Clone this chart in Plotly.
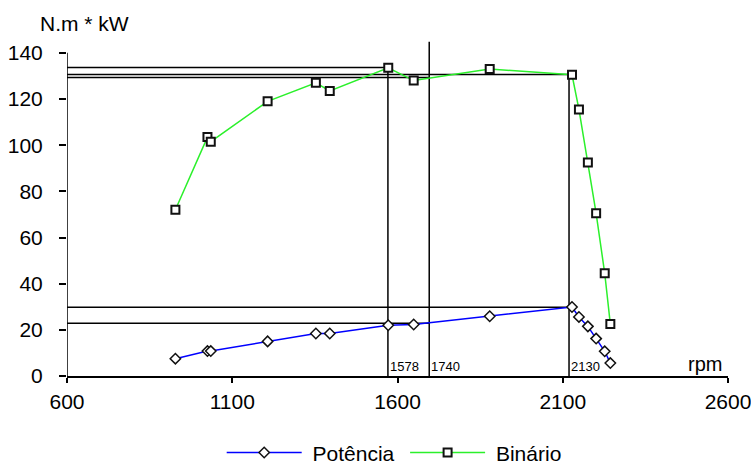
import plotly.graph_objects as go

# ---- data ----
rpm = [928, 1025, 1035, 1207, 1353, 1395, 1572, 1649, 1879, 2128, 2149, 2176, 2201, 2227, 2244]
binario = [72, 103.5, 101.5, 119, 127, 123.5, 133.5, 128, 133, 130.5, 115.5, 92.5, 70.5, 44.5, 22.5]
potencia = [7.5, 10.8, 10.8, 15, 18.4, 18.4, 22, 22.3, 25.9, 29.9, 25.6, 21.5, 16.2, 10.7, 5.6]

# reference (construction) lines drawn on the chart
vline_rpm = [1571, 1696, 2119]
vline_top = [133.7, 144.8, 130.6]
vline_labels = ["1578", "1740", "2130"]
hline_level = [133.7, 130.6, 129.3, 29.8, 22.9]
hline_end = [1571, 2119, 1696, 2119, 1696]

x_ticks = [600, 1100, 1600, 2100, 2600]
y_ticks = [0, 20, 40, 60, 80, 100, 120, 140]

FONT = "Liberation Sans, Arial, sans-serif"
NB = "\u00a0"

fig = go.Figure()

fig.add_trace(go.Scatter(
    x=rpm, y=potencia, name=NB + "Potência" + NB, mode="lines+markers",
    line=dict(color="#0000FF", width=1.5),
    marker=dict(symbol="diamond", size=8, color="white",
                line=dict(color="#111111", width=1.5)),
))
fig.add_trace(go.Scatter(
    x=rpm, y=binario, name=NB + "Binário", mode="lines+markers",
    line=dict(color="#2BF02B", width=1.5),
    marker=dict(symbol="square", size=8, color="white",
                line=dict(color="#111111", width=2)),
))

shapes = []
# y axis line (0..140)
shapes.append(dict(type="line", xref="x", yref="y", x0=x_ticks[0], x1=x_ticks[0],
                   y0=y_ticks[0], y1=y_ticks[-1], line=dict(color="black", width=1.5)))
for lvl, end in zip(hline_level, hline_end):
    shapes.append(dict(type="line", xref="x", yref="y", x0=x_ticks[0], x1=end,
                       y0=lvl, y1=lvl, line=dict(color="black", width=1.5), layer="below"))
for xv, top in zip(vline_rpm, vline_top):
    shapes.append(dict(type="line", xref="x", yref="y", x0=xv, x1=xv,
                       y0=0, y1=top, line=dict(color="black", width=1.5), layer="below"))

annotations = []
for xv, lab in zip(vline_rpm, vline_labels):
    annotations.append(dict(x=xv, y=4.2, xref="x", yref="y", text=lab, showarrow=False,
                            xanchor="left", yanchor="middle", xshift=0,
                            font=dict(family=FONT, size=13, color="black")))
annotations.append(dict(x=x_ticks[-1], y=5, xref="x", yref="y", text="rpm", showarrow=False,
                        xanchor="right", yanchor="middle", xshift=-4,
                        font=dict(family=FONT, size=20, color="black")))
annotations.append(dict(x=0, y=1, xref="paper", yref="paper", text="N.m * kW", showarrow=False,
                        xanchor="left", yanchor="middle", xshift=-29, yshift=16,
                        font=dict(family=FONT, size=21, color="black")))

fig.update_layout(
    width=751, height=466,
    margin=dict(l=67, r=23, t=39, b=90, autoexpand=False),
    paper_bgcolor="white", plot_bgcolor="white",
    font=dict(family=FONT, size=21, color="black"),
    shapes=shapes, annotations=annotations,
    showlegend=True,
    legend=dict(orientation="h", x=0.495, xanchor="center", y=-0.228, yanchor="middle",
                font=dict(family=FONT, size=21, color="black"), itemwidth=75,
                bgcolor="rgba(0,0,0,0)"),
    xaxis=dict(range=[600, 2600], tickvals=x_ticks, showgrid=False, zeroline=False,
               showline=True, linecolor="black", linewidth=1.5, automargin=False,
               ticks="outside", ticklen=5, tickcolor="black", tickwidth=1.5,
               ticklabeloverflow="allow", ticklabelstandoff=1,
               tickfont=dict(family=FONT, size=21, color="black")),
    yaxis=dict(range=[0, 146], tickvals=y_ticks, showgrid=False, zeroline=False,
               showline=False, automargin=False,
               ticks="outside", ticklen=7, tickcolor="black", tickwidth=1.5,
               ticklabelstandoff=12,
               tickfont=dict(family=FONT, size=21, color="black")),
)

fig.write_html("out.html", config={"displayModeBar": False},
               post_script="document.body.style.margin='0';")
